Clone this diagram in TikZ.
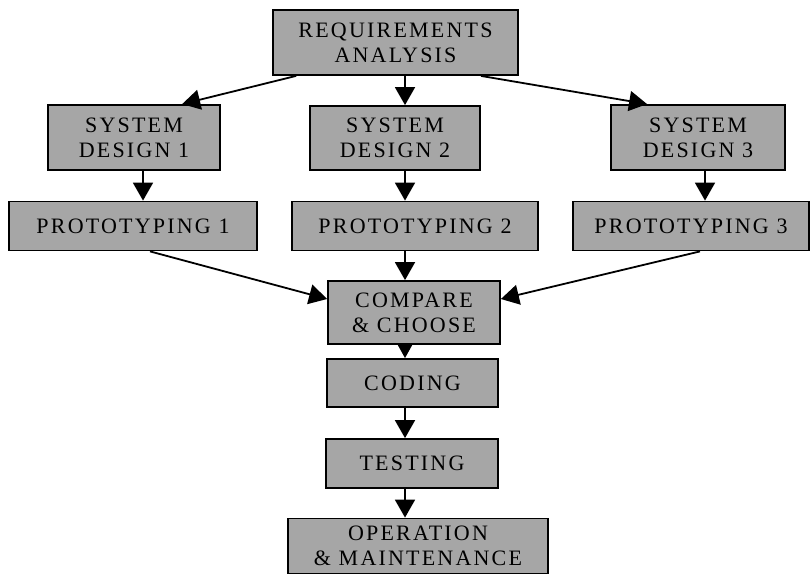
\documentclass[tikz,border=0pt]{standalone}
\usepackage{fontspec}
\setmainfont{Liberation Serif}
\usetikzlibrary{arrows.meta}

\begin{document}
\begin{tikzpicture}
		[x=1pt, y=-1pt,
		stage/.style={draw=black, line width=1.8pt, fill=black!35, align=center, inner sep=0pt,
			font=\fontsize{22}{25}\selectfont\addfontfeatures{LetterSpace=10}},
		flow/.style={line width=1.8pt, -{Triangle[length=18pt,width=20pt]}}]
		\useasboundingbox (0,0) rectangle (811,576);

		% Columns of the vertical arrows
		\coordinate (col1) at (143,0);
		\coordinate (spine) at (405,0);
		\coordinate (col3) at (705,0);

		% Analysis
		\node [stage, minimum width=245pt, minimum height=65pt] (req) at (395.5,42.5) {REQUIREMENTS\\ANALYSIS};

		% Three designs
		\node [stage, minimum width=172pt, minimum height=65pt] (sd1) at (134,137.5) {SYSTEM\\DESIGN 1};
		\node [stage, minimum width=170pt, minimum height=64pt] (sd2) at (395,138) {SYSTEM\\DESIGN 2};
		\node [stage, minimum width=174pt, minimum height=65pt] (sd3) at (698,137.5) {SYSTEM\\DESIGN 3};

		% Three prototypes
		\node [stage, minimum width=248pt, minimum height=49pt] (pt1) at (133,226) {PROTOTYPING 1};
		\node [stage, minimum width=246pt, minimum height=49pt] (pt2) at (415,226) {PROTOTYPING 2};
		\node [stage, minimum width=236pt, minimum height=49pt] (pt3) at (691,226) {PROTOTYPING 3};

		% Remaining stages
		\node [stage, minimum width=172pt, minimum height=63pt] (cmp) at (414,312.5) {COMPARE\\\& CHOOSE};
		\node [stage, minimum width=171pt, minimum height=48pt] (cod) at (412.5,383) {CODING};
		\node [stage, minimum width=172pt, minimum height=49pt] (tst) at (412,463.5) {TESTING};
		\node [stage, minimum width=260pt, minimum height=55pt] (ops) at (418,546) {OPERATION\\\& MAINTENANCE};

		% Analysis to designs
		\draw[flow] ([xshift=24pt]req.south west) -- ([xshift=135pt]sd1.north west);
		\draw[flow] (req.south -| spine) -- (sd2.north -| spine);
		\draw[flow] ([xshift=-38pt]req.south east) -- ([xshift=37pt]sd3.north west);

		% Designs to prototypes
		\draw[flow] (sd1.south -| col1) -- (pt1.north -| col1);
		\draw[flow] (sd2.south -| spine) -- (pt2.north -| spine);
		\draw[flow] (sd3.south -| col3) -- (pt3.north -| col3);

		% Prototypes to comparison
		\draw[flow] ([xshift=17pt]pt1.south) -- ([yshift=13.5pt]cmp.west);
		\draw[flow] (pt2.south -| spine) -- (cmp.north -| spine);
		\draw[flow] ([xshift=9pt]pt3.south) -- ([yshift=13.5pt]cmp.east);

		% Down the spine
		\draw[flow, -{Triangle[length=14pt,width=15pt]}] (cmp.south -| spine) -- (cod.north -| spine);
		\draw[flow] (cod.south -| spine) -- (tst.north -| spine);
		\draw[flow] (tst.south -| spine) -- (ops.north -| spine);
	\end{tikzpicture}
\end{document}
